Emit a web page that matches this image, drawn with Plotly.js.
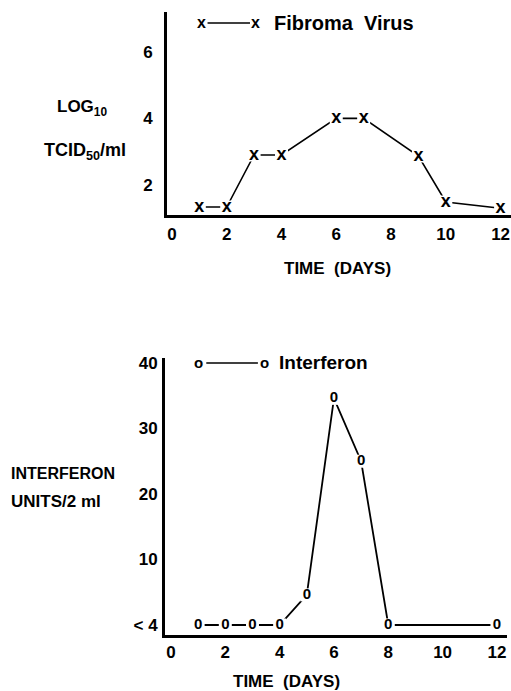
<!DOCTYPE html>
<html><head><meta charset="utf-8">
<script src="https://cdn.plot.ly/plotly-3.0.1.min.js"></script>
<style>html,body{margin:0;padding:0;background:#fff}#chart{width:511px;height:691px}</style>
</head><body><div id="chart"></div>
<script>
// Top panel: Fibroma virus titre (log10 TCID50/ml)
const virusDays = [1, 2, 3, 4, 6, 7, 9, 10, 12];
const virusLog = [1.34, 1.34, 2.9, 2.9, 4.0, 4.0, 2.87, 1.49, 1.3];
// Bottom panel: interferon units/2 ml (0 on the plot = "< 4")
const ifnDays = [1, 2, 3, 4, 5, 6, 7, 8, 12];
const ifnUnits = [0, 0, 0, 0, 4.6, 34.6, 25, 0, 0];
const dayTicks = [0, 2, 4, 6, 8, 10, 12];
const virusTicks = [2, 4, 6];
const ifnTicks = [0, 10, 20, 30, 40];
const ifnTickText = ["< 4", "10", "20", "30", "40"];

const FONT = "Liberation Sans, Arial, sans-serif";
const f = (size) => ({family: FONT, size: size, color: "#000", weight: 700});
const tickFont = f(17);

const traces = [
  {x: virusDays, y: virusLog, xaxis: "x", yaxis: "y", mode: "lines+markers+text",
   text: virusDays.map(() => "x"), textposition: "middle center",
   textfont: f(18),
   line: {color: "#000", width: 1.6},
   marker: {symbol: "square", size: 13, color: "#fff", line: {width: 0}},
   hoverinfo: "none", showlegend: false, cliponaxis: false},
  {x: ifnDays, y: ifnUnits, xaxis: "x2", yaxis: "y2", mode: "lines+markers+text",
   text: ifnDays.map(() => "0"), textposition: "middle center",
   textfont: f(15),
   line: {color: "#000", width: 1.8},
   marker: {symbol: "square", size: 13, color: "#fff", line: {width: 0}},
   hoverinfo: "none", showlegend: false, cliponaxis: false}
];

const axBase = {showgrid: false, zeroline: false, showline: true, linecolor: "#000",
  linewidth: 3, ticks: "", tickfont: tickFont, fixedrange: true, ticklabeloverflow: "allow"};

const layout = {
  width: 511, height: 691, margin: {l: 0, r: 0, t: 0, b: 0},
  paper_bgcolor: "#fff", plot_bgcolor: "#fff",
  xaxis: Object.assign({}, axBase, {domain: [167/511, 1], range: [-0.18, 12.38],
    tickvals: dayTicks, anchor: "y", ticklabelstandoff: 2}),
  yaxis: Object.assign({}, axBase, {domain: [1 - 215/691, 1 - 12/691], range: [1.1, 7.19],
    tickvals: virusTicks, anchor: "x", ticklabelstandoff: 8}),
  xaxis2: Object.assign({}, axBase, {domain: [165/511, 507/511], range: [-0.22, 12.37],
    tickvals: dayTicks, anchor: "y2", ticklabelstandoff: 0}),
  yaxis2: Object.assign({}, axBase, {domain: [1 - 635/691, 1 - 358/691], range: [-1.53, 40.76],
    tickvals: ifnTicks, ticktext: ifnTickText, anchor: "x2", ticklabelstandoff: 1}),
  shapes: [
    {type: "line", xref: "x", yref: "y", x0: 1.3, x1: 2.85, y0: 6.86, y1: 6.86,
     line: {color: "#000", width: 1.5}},
    {type: "line", xref: "x2", yref: "y2", x0: 1.3, x1: 3.2, y0: 40, y1: 40,
     line: {color: "#000", width: 1.5}}
  ],
  annotations: [
    {xref: "x", yref: "y", x: 1.07, y: 6.86, text: "x", showarrow: false, yanchor: "middle", font: f(16)},
    {xref: "x", yref: "y", x: 3.04, y: 6.86, text: "x", showarrow: false, yanchor: "middle", font: f(16)},
    {xref: "x", yref: "y", x: 3.65, y: 6.86, text: "Fibroma  Virus", showarrow: false,
     xanchor: "left", yanchor: "middle", font: f(20)},
    {xref: "x2", yref: "y2", x: 1.03, y: 40, text: "o", showarrow: false, yanchor: "middle", font: f(15)},
    {xref: "x2", yref: "y2", x: 3.46, y: 40, text: "o", showarrow: false, yanchor: "middle", font: f(15)},
    {xref: "x2", yref: "y2", x: 3.92, y: 40, text: "Interferon", showarrow: false,
     xanchor: "left", yanchor: "middle", font: f(19)},
    {xref: "paper", yref: "paper", x: 337/511, y: 1 - 268/691, text: "TIME  (DAYS)",
     showarrow: false, yanchor: "middle", font: f(17)},
    {xref: "paper", yref: "paper", x: 342/511, y: 1 - 681/691, text: "TIME  (DAYS)",
     showarrow: false, yanchor: "middle", font: f(17)},
    {xref: "paper", yref: "paper", x: 55/511, y: 1 - 108/691, text: "LOG<sub>10</sub>",
     xanchor: "left", yanchor: "middle", showarrow: false, font: f(17)},
    {xref: "paper", yref: "paper", x: 42/511, y: 1 - 152/691, text: "TCID<sub>50</sub>/ml",
     xanchor: "left", yanchor: "middle", showarrow: false, font: f(18)},
    {xref: "paper", yref: "paper", x: 9/511, y: 1 - 473/691, text: "INTERFERON",
     xanchor: "left", yanchor: "middle", showarrow: false, font: f(16)},
    {xref: "paper", yref: "paper", x: 9/511, y: 1 - 502/691, text: "UNITS/2 ml",
     xanchor: "left", yanchor: "middle", showarrow: false, font: f(17)}
  ]
};

Plotly.newPlot("chart", traces, layout, {staticPlot: true, displayModeBar: false});
</script></body></html>
